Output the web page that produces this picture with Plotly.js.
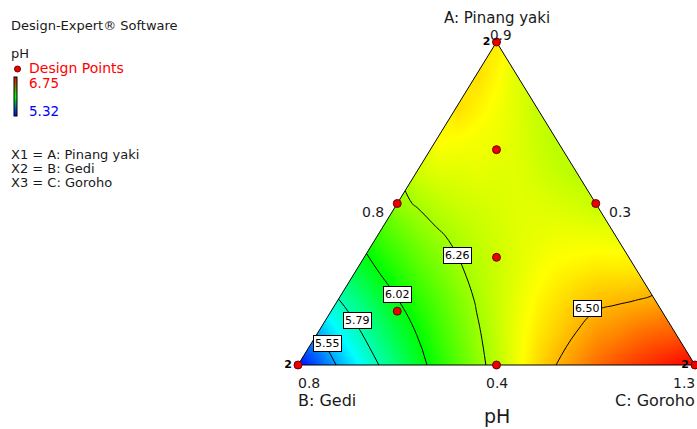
<!DOCTYPE html>
<html>
<head>
<meta charset="utf-8">
<script src="https://cdn.plot.ly/plotly-3.0.1.min.js"></script>
<style>html,body{margin:0;padding:0;background:#fff;}#chart{width:697px;height:429px;}</style>
</head>
<body>
<div id="chart"></div>
<script>
// ---- data ----
// horizontal position across the triangle (B corner 0 -> C corner 1) and A fraction (bottom 0 -> top 1)
const xGrid = [0,0.05,0.1,0.15,0.2,0.25,0.3,0.35,0.4,0.45,0.5,0.55,0.6,0.65,0.7,0.75,0.8,0.85,0.9,0.95,1];
const aGrid = [0,0.1,0.2,0.3,0.4,0.5,0.6,0.7,0.8,0.9,1];
const N = null;
// estimated pH inside the triangle (null = outside)
const phGrid = [
 [5.32,5.44,5.56,5.67,5.78,5.88,5.98,6.07,6.15,6.23,6.30,6.37,6.44,6.50,6.55,6.60,6.64,6.67,6.70,6.73,6.75],
 [N,5.56,5.67,5.77,5.86,5.95,6.03,6.11,6.18,6.25,6.31,6.37,6.42,6.46,6.50,6.54,6.56,6.59,6.61,6.62,N],
 [N,N,5.78,5.86,5.94,6.02,6.09,6.15,6.21,6.27,6.32,6.36,6.40,6.43,6.46,6.48,6.49,6.50,6.51,N,N],
 [N,N,N,5.96,6.03,6.09,6.15,6.20,6.25,6.29,6.32,6.35,6.38,6.40,6.41,6.42,6.42,6.42,N,N,N],
 [N,N,N,N,6.11,6.16,6.21,6.25,6.28,6.31,6.33,6.35,6.36,6.37,6.37,6.37,6.36,N,N,N,N],
 [N,N,N,N,N,6.24,6.27,6.30,6.32,6.33,6.34,6.35,6.35,6.34,6.33,6.31,N,N,N,N,N],
 [N,N,N,N,N,N,6.33,6.35,6.35,6.36,6.35,6.35,6.33,6.31,6.29,N,N,N,N,N,N],
 [N,N,N,N,N,N,N,6.40,6.39,6.38,6.37,6.35,6.32,6.29,N,N,N,N,N,N,N],
 [N,N,N,N,N,N,N,N,6.44,6.41,6.38,6.35,6.31,N,N,N,N,N,N,N,N],
 [N,N,N,N,N,N,N,N,N,6.44,6.40,6.35,N,N,N,N,N,N,N,N,N],
 [N,N,N,N,N,N,N,N,N,N,6.42,N,N,N,N,N,N,N,N,N,N]
];
const contourLevels = [5.55, 5.79, 6.02, 6.26, 6.50];
const legendMin = 5.32, legendMax = 6.75;

// design points as mixture fractions (pseudo components)
const ptA = [1, 0, 0, 0.5, 0.5, 0, 1/3, 2/3, 1/6, 1/6];
const ptB = [0, 1, 0, 0.5, 0, 0.5, 1/3, 1/6, 2/3, 1/6];
const ptC = [0, 0, 1, 0, 0.5, 0.5, 1/3, 1/6, 1/6, 2/3];
const ptReps = [2, 2, 2, 1, 1, 1, 1, 1, 1, 1];

// ---- layout helpers ----
const W = 697, H = 429;
const px = v => v / W, py = v => 1 - v / H;
const FONT = 'DejaVu Sans, sans-serif';
const INK = '#1a1a1a';

const mapScale = [[0,'rgb(0,0,255)'],[0.25,'rgb(0,255,255)'],[0.5,'rgb(0,255,0)'],[0.75,'rgb(255,255,0)'],[1,'rgb(255,0,0)']];
const legendScale = [[0,'rgb(0,0,255)'],[0.5,'rgb(0,255,0)'],[1,'rgb(255,0,0)']];

const surface = {
  type: 'contour', x: xGrid, y: aGrid, z: phGrid, connectgaps: true,
  zauto: false, zmin: legendMin, zmax: legendMax, colorscale: mapScale,
  autocontour: false,
  contours: {start: contourLevels[0], end: contourLevels[contourLevels.length-1] + 1e-4,
             size: (contourLevels[contourLevels.length-1] - contourLevels[0]) / (contourLevels.length - 1),
             coloring: 'heatmap', showlines: true},
  line: {color: '#000', width: 1, smoothing: 1.3},
  showscale: false, hoverinfo: 'skip'
};

const legendBar = {
  type: 'heatmap', z: [[legendMin, legendMax]], opacity: 0, hoverinfo: 'skip',
  zmin: legendMin, zmax: legendMax, colorscale: legendScale, showscale: true,
  colorbar: {x: px(14), xanchor: 'left', y: py(77), yanchor: 'top', len: 39, lenmode: 'pixels',
             thickness: 3, thicknessmode: 'pixels', xpad: 0, ypad: 0, outlinewidth: 1, outlinecolor: '#000',
             showticklabels: false, ticks: '', borderwidth: 0}
};

const maskL = {type: 'scatter', mode: 'lines', x: [0, 0.5, 0.5, -0.2, -0.2, 0], y: [0, 1, 1.2, 1.2, -0.2, -0.2],
  fill: 'toself', fillcolor: '#fff', line: {width: 0, color: '#fff'}, hoverinfo: 'skip'};
const maskR = {type: 'scatter', mode: 'lines', x: [1, 0.5, 0.5, 1.2, 1.2, 1], y: [0, 1, 1.2, 1.2, -0.2, -0.2],
  fill: 'toself', fillcolor: '#fff', line: {width: 0, color: '#fff'}, hoverinfo: 'skip'};

const outline = {type: 'scatter', mode: 'lines', x: [0, 1, 0.5, 0], y: [0, 0, 1, 0],
  line: {color: '#000', width: 1}, cliponaxis: false, hoverinfo: 'skip'};

const points = {
  type: 'scatter', mode: 'markers+text',
  x: ptA.map((a, i) => ptC[i] + a / 2), y: ptA.slice(),
  text: ptReps.map(r => r > 1 ? String(r) : ''), textposition: 'middle left',
  textfont: {family: FONT, size: 11, color: '#000', weight: 'bold'},
  marker: {size: 8, color: 'rgb(235,0,0)', line: {color: 'rgb(110,0,0)', width: 1}},
  cliponaxis: false, hoverinfo: 'skip'
};

function txt(text, x, y, size, anchor, color) {
  return {text: text, x: px(x), y: py(y), xref: 'paper', yref: 'paper', showarrow: false,
          xanchor: anchor || 'left', yanchor: 'middle', borderpad: 0,
          font: {family: FONT, size: size, color: color || INK}};
}
const labelPos = [[327, 343], [357, 320], [397, 294], [457, 255], [587, 308]];
const annotations = [
  txt('Design-Expert® Software', 10, 25, 13),
  txt('pH', 10, 53, 13),
  txt('Design Points', 28, 68, 14, 'left', '#ff0000'),
  txt('6.75', 28, 83, 13.5, 'left', '#ff0000'),
  txt('5.32', 28, 111, 13.5, 'left', '#0000ff'),
  txt('X1 = A: Pinang yaki', 10, 154, 13),
  txt('X2 = B: Gedi', 10, 168, 13),
  txt('X3 = C: Goroho', 10, 182, 13),
  txt('A: Pinang yaki', 497, 18, 15, 'center'),
  txt('0.9', 500, 35, 13.5, 'center'),
  txt('0.8', 385, 212, 14, 'right'),
  txt('0.3', 608, 212, 14, 'left'),
  txt('0.8', 297, 383, 14, 'left'),
  txt('0.4', 497, 383, 14, 'center'),
  txt('1.3', 696, 383, 14, 'right'),
  txt('B: Gedi', 297, 400, 16, 'left'),
  txt('C: Goroho', 696, 400, 16, 'right'),
  txt('pH', 497, 416, 19, 'center')
];
contourLevels.forEach((lv, i) => {
  annotations.push({text: lv.toFixed(2), x: px(labelPos[i][0]), y: py(labelPos[i][1]), xref: 'paper', yref: 'paper',
    showarrow: false, xanchor: 'center', yanchor: 'middle', bgcolor: '#fff', bordercolor: '#000',
    borderwidth: 1, borderpad: 1, font: {family: FONT, size: 11, color: '#000'}});
});

const shapes = [{type: 'circle', xref: 'paper', yref: 'paper', x0: px(14.5), x1: px(20.5), y0: py(66), y1: py(72),
  fillcolor: 'rgb(235,0,0)', line: {color: 'rgb(110,0,0)', width: 1}}];

const layout = {
  width: W, height: H, margin: {l: 0, r: 0, t: 0, b: 0},
  paper_bgcolor: '#fff', plot_bgcolor: '#fff', showlegend: false,
  xaxis: {domain: [278.15 / W, 1], range: [-0.05, 1 + 2 / 397], visible: false, fixedrange: true},
  yaxis: {domain: [47.85 / H, 403.15 / H], range: [-0.05, 1.05], visible: false, fixedrange: true},
  annotations: annotations, shapes: shapes
};

Plotly.newPlot('chart', [legendBar, surface, maskL, maskR, outline, points], layout,
  {displayModeBar: false, staticPlot: true});
</script>
</body>
</html>
